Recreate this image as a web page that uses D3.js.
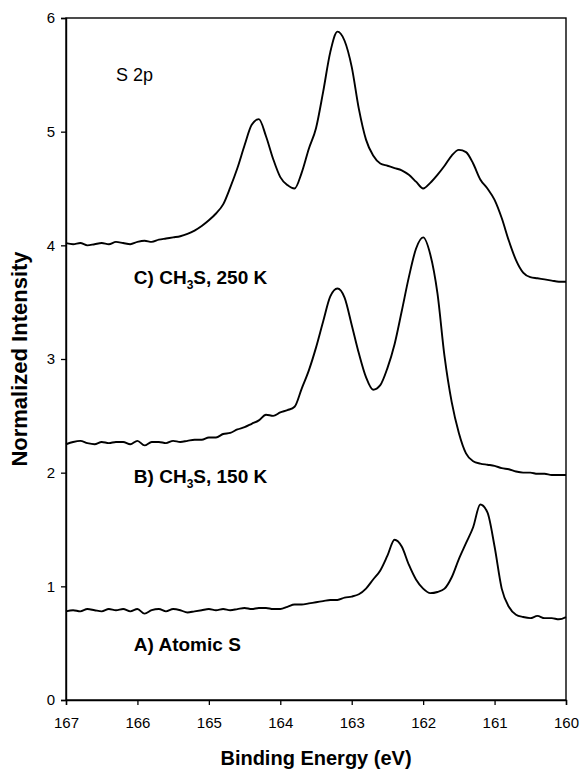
<!DOCTYPE html>
<html><head><meta charset="utf-8">
<script src="https://cdn.jsdelivr.net/npm/d3@7"></script>
<style>body{margin:0;background:#fff}svg{display:block}</style>
</head><body>
<svg id="chart" width="583" height="772"></svg>
<script>
const energies = [167.0,166.9,166.8,166.7,166.6,166.5,166.4,166.3,166.2,166.1,
166.0,165.9,165.8,165.7,165.6,165.5,165.4,165.3,165.2,165.1,
165.0,164.9,164.8,164.7,164.6,164.5,164.4,164.3,164.2,164.1,
164.0,163.9,163.8,163.7,163.6,163.5,163.4,163.3,163.2,163.1,
163.0,162.9,162.8,162.7,162.6,162.5,162.4,162.3,162.2,162.1,
162.0,161.9,161.8,161.7,161.6,161.5,161.4,161.3,161.2,161.1,
161.0,160.9,160.8,160.7,160.6,160.5,160.4,160.3,160.2,160.1,160.0];

const seriesA = [0.78,0.79,0.78,0.80,0.79,0.78,0.80,0.79,0.80,0.78,
0.80,0.76,0.79,0.80,0.78,0.80,0.79,0.77,0.78,0.79,
0.80,0.79,0.80,0.79,0.80,0.81,0.80,0.81,0.81,0.80,
0.80,0.82,0.84,0.84,0.85,0.86,0.87,0.88,0.88,0.90,
0.91,0.93,0.98,1.06,1.14,1.27,1.41,1.35,1.19,1.06,
0.98,0.94,0.95,0.98,1.08,1.24,1.38,1.52,1.72,1.65,
1.35,0.98,0.82,0.75,0.73,0.72,0.74,0.72,0.72,0.71,0.73];

const seriesB = [2.25,2.27,2.28,2.26,2.25,2.27,2.26,2.27,2.27,2.25,
2.28,2.24,2.27,2.27,2.26,2.28,2.27,2.28,2.29,2.29,
2.31,2.31,2.34,2.35,2.38,2.40,2.43,2.46,2.51,2.50,
2.53,2.55,2.58,2.74,2.90,3.10,3.33,3.55,3.62,3.54,
3.30,3.05,2.84,2.73,2.77,2.92,3.13,3.42,3.72,3.97,
4.07,3.92,3.58,3.02,2.62,2.35,2.17,2.10,2.08,2.07,
2.06,2.04,2.03,2.01,2.00,2.00,1.99,1.99,1.98,1.98,1.98];

const seriesC = [4.02,4.01,4.02,4.00,4.01,4.02,4.01,4.03,4.02,4.01,
4.03,4.04,4.03,4.05,4.06,4.07,4.08,4.10,4.13,4.17,
4.22,4.28,4.36,4.51,4.68,4.88,5.06,5.11,4.96,4.76,
4.60,4.53,4.50,4.64,4.85,5.03,5.35,5.70,5.88,5.80,
5.57,5.20,4.93,4.79,4.72,4.70,4.68,4.66,4.62,4.56,
4.50,4.55,4.62,4.70,4.79,4.84,4.82,4.72,4.58,4.50,
4.40,4.24,4.04,3.87,3.76,3.72,3.71,3.70,3.69,3.68,3.68];

const xTicks = [167,166,165,164,163,162,161,160];
const yTicks = [0,1,2,3,4,5,6];
const xTitle = "Binding Energy (eV)";
const yTitle = "Normalized Intensity";
const panelLabel = "S 2p";
const curveLabels = [
  {pre:"C) CH", sub:"3", post:"S, 250 K", y:3.66},
  {pre:"B) CH", sub:"3", post:"S, 150 K", y:1.91},
  {pre:"A) Atomic S", sub:"", post:"", y:0.43}
];

const svg = d3.select("#chart");
const m = {left:66, right:566, top:18, bottom:700};
const x = d3.scaleLinear().domain([167,160]).range([m.left, m.right]);
const y = d3.scaleLinear().domain([0,6]).range([m.bottom, m.top]);
const font = "Arial, 'Liberation Sans', Helvetica, sans-serif";

// frame
svg.append("rect").attr("x",m.left).attr("y",m.top)
  .attr("width",m.right-m.left).attr("height",m.bottom-m.top)
  .attr("fill","none").attr("stroke","#000").attr("stroke-width",1.4);

const xAxis = svg.append("g").attr("transform",`translate(0,${m.bottom})`)
  .call(d3.axisBottom(x).tickValues(xTicks).tickSize(5).tickPadding(12).tickFormat(d3.format("d")));
const yAxis = svg.append("g").attr("transform",`translate(${m.left},0)`)
  .call(d3.axisLeft(y).tickValues(yTicks).tickSize(5).tickPadding(6).tickFormat(d3.format("d")));
[xAxis,yAxis].forEach(g=>{
  g.select(".domain").attr("stroke","#000").attr("stroke-width",1.4);
  g.selectAll(".tick line").attr("stroke","#000").attr("stroke-width",1.3);
  g.selectAll(".tick text").attr("font-family",font).attr("font-size",15).attr("fill","#000");
});

const line = d3.line().x((d,i)=>x(energies[i])).y(d=>y(d)).curve(d3.curveMonotoneX);
[seriesA,seriesB,seriesC].forEach(s=>{
  svg.append("path").datum(s).attr("d",line)
    .attr("fill","none").attr("stroke","#000").attr("stroke-width",1.9)
    .attr("stroke-linejoin","round");
});

// labels
svg.append("text").attr("x",x(166.3)).attr("y",y(5.45)).attr("font-family",font)
  .attr("font-size",18).text(panelLabel);
curveLabels.forEach(c=>{
  const t = svg.append("text").attr("x",x(166.05)).attr("y",y(c.y))
    .attr("font-family",font).attr("font-weight","bold").attr("font-size",19);
  t.append("tspan").text(c.pre);
  if (c.sub) {
    t.append("tspan").attr("font-size",12).attr("dy",5).text(c.sub);
    t.append("tspan").attr("dy",-5).text(c.post);
  }
});

svg.append("text").attr("x",(m.left+m.right)/2).attr("y",765).attr("text-anchor","middle")
  .attr("font-family",font).attr("font-weight","bold").attr("font-size",20).text(xTitle);
svg.append("text").attr("transform",`translate(27,${(m.top+m.bottom)/2}) rotate(-90)`)
  .attr("text-anchor","middle").attr("font-family",font).attr("font-weight","bold")
  .attr("font-size",22).text(yTitle);
</script>
</body></html>
